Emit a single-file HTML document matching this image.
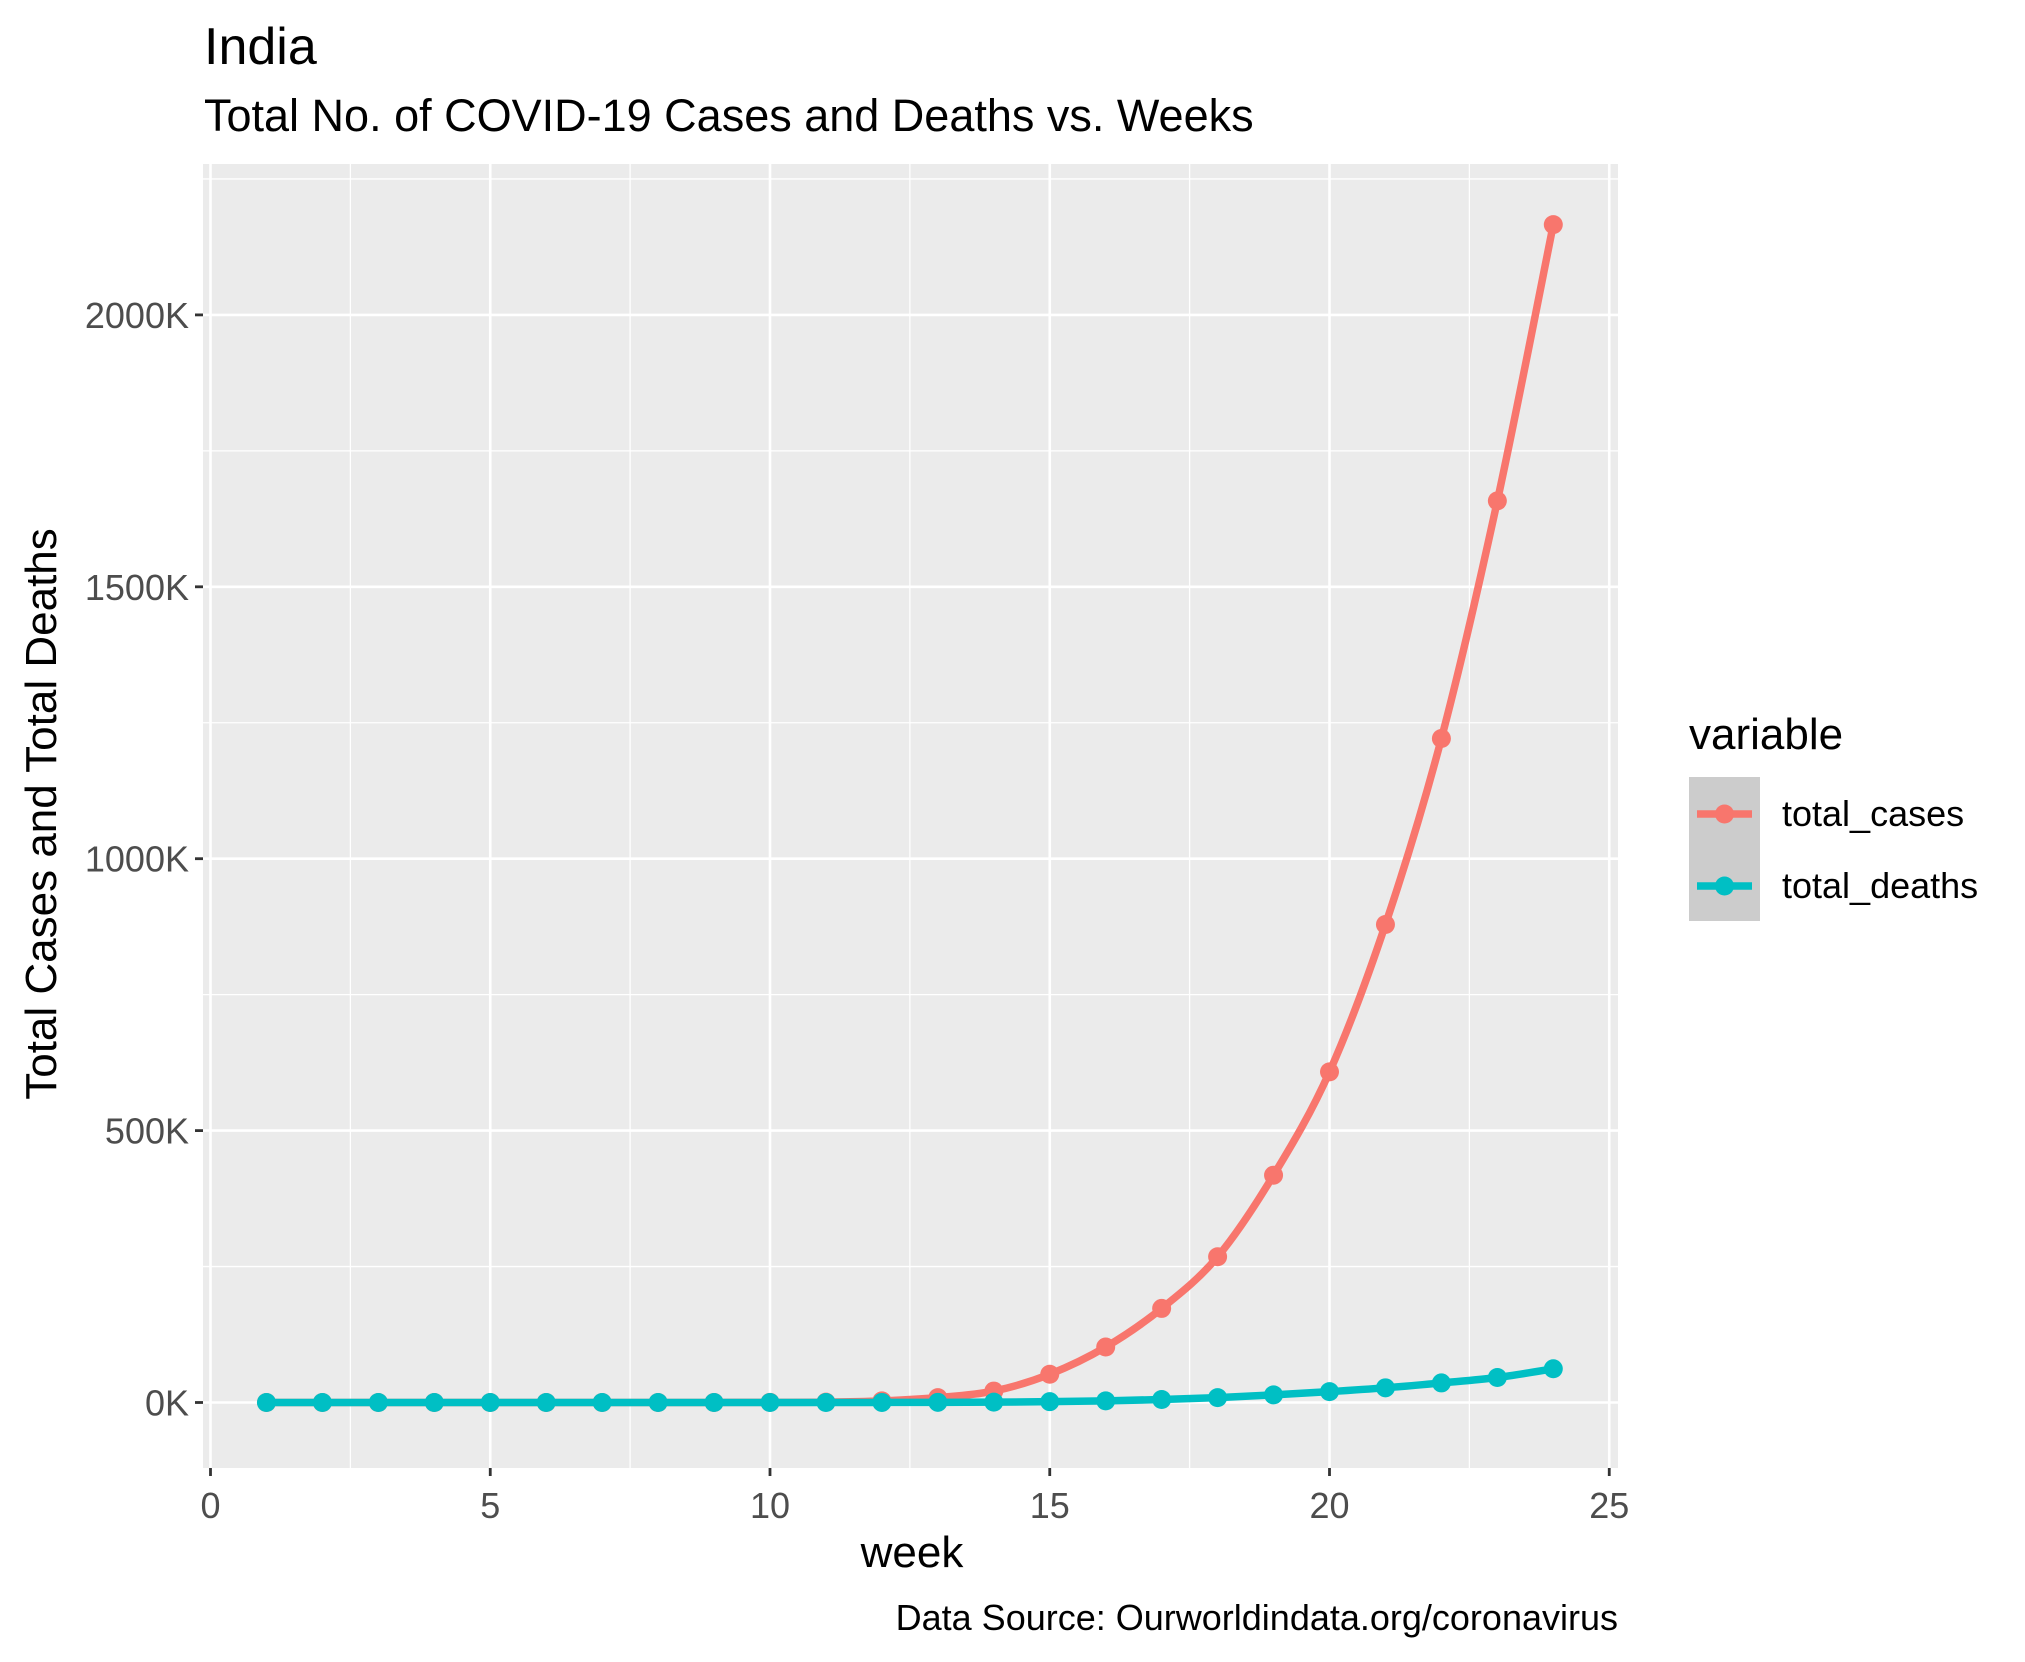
<!DOCTYPE html>
<html><head><meta charset="utf-8"><style>
body{margin:0;background:#fff;}
svg{display:block;font-family:"Liberation Sans",Arial,sans-serif;}
</style></head><body>
<svg id="chart" width="2025" height="1662" viewBox="0 0 2025 1662" xmlns="http://www.w3.org/2000/svg">
<text x="204" y="64" font-size="52" fill="#000">India</text>
<text x="204" y="131" font-size="45" fill="#000">Total No. of COVID-19 Cases and Deaths vs. Weeks</text>
<rect x="203" y="164" width="1415" height="1304" fill="#ebebeb"/>
<g id="grid"></g>
<g id="axes"></g>
<g id="series"></g>
<text x="912" y="1567" font-size="44" text-anchor="middle" fill="#000">week</text>
<text transform="translate(56,814) rotate(-90)" font-size="44" text-anchor="middle" fill="#000">Total Cases and Total Deaths</text>
<text x="1618" y="1630" font-size="36" text-anchor="end" fill="#000">Data Source: Ourworldindata.org/coronavirus</text>
<g>
<text x="1689" y="749" font-size="44" fill="#000">variable</text>
<rect x="1689" y="777" width="71" height="144" fill="#cccccc"/>
<g>
<line x1="1697" y1="814" x2="1752" y2="814" stroke="#F8766D" stroke-width="7.5"/>
<circle cx="1724.5" cy="814" r="9.5" fill="#F8766D"/>
<text x="1782" y="826" font-size="36" fill="#000">total_cases</text></g>
<g>
<line x1="1697" y1="886" x2="1752" y2="886" stroke="#00BFC4" stroke-width="7.5"/>
<circle cx="1724.5" cy="886" r="9.5" fill="#00BFC4"/>
<text x="1782" y="898" font-size="36" fill="#000">total_deaths</text></g>
</g>
</svg>
<script>
const weeks=[1,2,3,4,5,6,7,8,9,10,11,12,13,14,15,16,17,18,19,20,21,22,23,24];
const totalCases=[0,0,0,0,0,0,0,0,0.1,0.3,0.6,3,9,21,52,102,173,268,418,608,879,1221,1658,2166];
const totalDeaths=[0,0,0,0,0,0,0,0,0,0,0,0.1,0.3,0.7,1.5,3,5.5,9,14,20,27,36,46,62];
const xTicks=[0,5,10,15,20,25];
const yTicks=[0,500,1000,1500,2000];
const yTickLabels=["0K","500K","1000K","1500K","2000K"];
const NS="http://www.w3.org/2000/svg";
const L=203,R=1618,T=164,B=1468;
function xs(v){return 210.5+v*55.95;}
function ys(v){return 1402.5-v*(271.9/500);}
function mk(tag,attrs,parent){const e=document.createElementNS(NS,tag);for(const k in attrs)e.setAttribute(k,attrs[k]);parent.appendChild(e);return e;}
const grid=document.getElementById('grid'),axes=document.getElementById('axes'),series=document.getElementById('series');
for(let i=0;i<xTicks.length-1;i++){const v=(xTicks[i]+xTicks[i+1])/2;const l=mk('line',{x1:xs(v),x2:xs(v),y1:T,y2:B,stroke:'#fff','stroke-width':1.3},grid);}
for(let i=0;i<yTicks.length;i++){const v=yTicks[i]+250;if(ys(v)<T)continue;const l=mk('line',{x1:L,x2:R,y1:ys(v),y2:ys(v),stroke:'#fff','stroke-width':1.3},grid);}
xTicks.forEach(v=>{const l=mk('line',{x1:xs(v),x2:xs(v),y1:T,y2:B,stroke:'#fff','stroke-width':2.6},grid);
const t=mk('line',{x1:xs(v),x2:xs(v),y1:B,y2:B+8,stroke:'#333','stroke-width':2.8},axes);
const tx=mk('text',{x:xs(v),y:B+50,'font-size':36,'text-anchor':'middle',fill:'#4d4d4d'},axes);tx.textContent=v;});
yTicks.forEach((v,i)=>{const l=mk('line',{x1:L,x2:R,y1:ys(v),y2:ys(v),stroke:'#fff','stroke-width':2.6},grid);
const t=mk('line',{x1:L-8,x2:L,y1:ys(v),y2:ys(v),stroke:'#333','stroke-width':2.8},axes);
const tx=mk('text',{x:L-14,y:ys(v)+13,'font-size':36,'text-anchor':'end',fill:'#4d4d4d'},axes);tx.textContent=yTickLabels[i];});
function smooth(pts){let d='M'+pts[0][0]+','+pts[0][1];for(let i=0;i<pts.length-1;i++){const p0=pts[i-1]||pts[i],p1=pts[i],p2=pts[i+1],p3=pts[i+2]||p2;
const c1=[p1[0]+(p2[0]-p0[0])/6,p1[1]+(p2[1]-p0[1])/6],c2=[p2[0]-(p3[0]-p1[0])/6,p2[1]-(p3[1]-p1[1])/6];d+=' C'+c1+' '+c2+' '+p2;}return d;}
function draw(vals,color,name){const pts=weeks.map((w,i)=>[xs(w),ys(vals[i])]);
const p=mk('path',{d:smooth(pts),fill:'none',stroke:color,'stroke-width':7.5,'stroke-linejoin':'round'},series);
pts.forEach(q=>{const c=mk('circle',{cx:q[0],cy:q[1],r:9.5,fill:color},series);});}
draw(totalCases,'#F8766D','total-cases');
draw(totalDeaths,'#00BFC4','total-deaths');
</script>
</body></html>
